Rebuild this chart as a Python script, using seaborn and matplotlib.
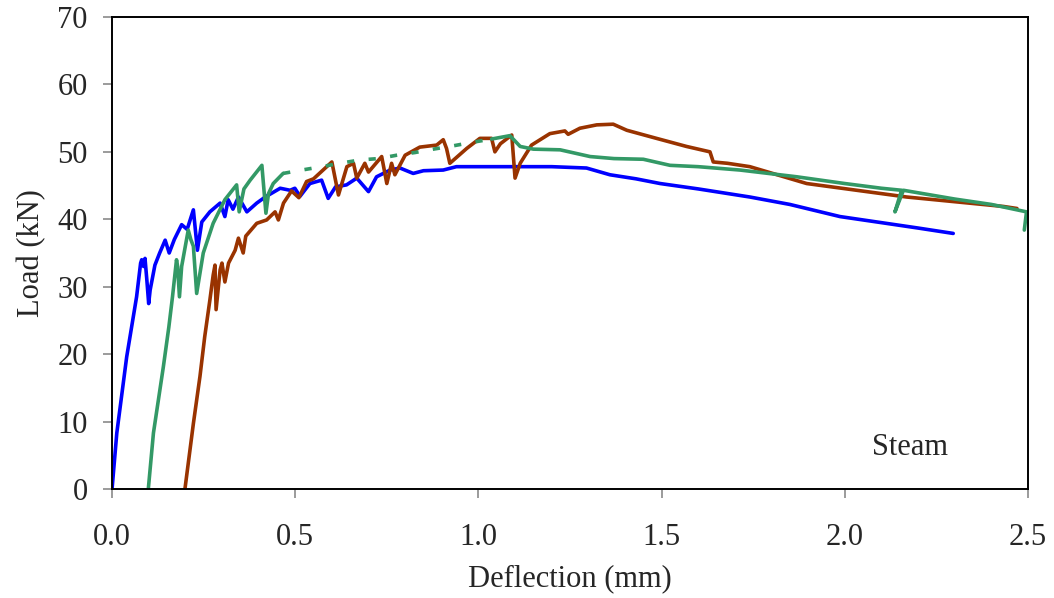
import pandas as pd
import matplotlib
matplotlib.use("Agg")
import matplotlib.pyplot as plt
import seaborn as sns

# Load-deflection curves (Steam)
blue_x = [0, 0.013, 0.04, 0.067, 0.078, 0.081, 0.086, 0.090, 0.095, 0.100, 0.104, 0.117, 0.13,
          0.145, 0.156, 0.17, 0.19, 0.205, 0.222, 0.233, 0.245, 0.267, 0.295, 0.308, 0.317, 0.33,
          0.345, 0.368, 0.395, 0.418, 0.459, 0.486, 0.499, 0.513, 0.54, 0.572, 0.59, 0.61, 0.64,
          0.668, 0.70, 0.722, 0.759, 0.786, 0.822, 0.85, 0.904, 0.94, 1.0, 1.086, 1.2, 1.295,
          1.359, 1.43, 1.496, 1.6, 1.741, 1.85, 1.987, 2.1, 2.2, 2.296]
blue_y = [0, 8.3, 19.6, 28.5, 33.5, 34.0, 33.0, 34.2, 31.0, 27.5, 29.5, 33.2, 35.0,
          36.9, 35.0, 37.0, 39.2, 38.5, 41.4, 35.4, 39.6, 41.1, 42.4, 40.4, 42.9, 41.5,
          43.3, 41.1, 42.4, 43.3, 44.6, 44.3, 44.6, 43.4, 45.3, 45.8, 43.1, 44.8, 45.1,
          46.1, 44.1, 46.3, 47.3, 47.6, 46.8, 47.2, 47.3, 47.8, 47.8, 47.8, 47.8, 47.6,
          46.6, 46.0, 45.3, 44.5, 43.3, 42.2, 40.4, 39.5, 38.7, 37.9]

brown_x = [0.199, 0.222, 0.240, 0.253, 0.267, 0.276, 0.281, 0.284, 0.295, 0.300, 0.308, 0.318,
           0.336, 0.345, 0.358, 0.365, 0.395, 0.422, 0.445, 0.454, 0.468, 0.49, 0.51, 0.531,
           0.55, 0.60, 0.618, 0.641, 0.659, 0.668, 0.69, 0.70, 0.736, 0.75, 0.763, 0.772, 0.80,
           0.84, 0.886, 0.904, 0.913, 0.922, 0.968, 1.004, 1.036, 1.045, 1.06, 1.091, 1.10,
           1.114, 1.145, 1.195, 1.236, 1.245, 1.277, 1.323, 1.368, 1.405, 1.486, 1.568, 1.632,
           1.641, 1.68, 1.741, 1.896, 2.169, 2.433, 2.47]
brown_y = [0, 9.7, 16.7, 22.6, 28.0, 31.7, 33.2, 26.6, 32.5, 33.5, 30.7, 33.5,
           35.4, 37.2, 35.0, 37.5, 39.4, 39.9, 41.1, 39.9, 42.4, 44.2, 43.2, 45.6,
           46.0, 48.5, 43.6, 47.8, 48.3, 46.1, 48.3, 47.0, 49.3, 45.3, 48.3, 46.6, 49.5,
           50.7, 51.0, 51.8, 50.5, 48.3, 50.5, 52.0, 52.0, 50.0, 51.2, 52.5, 46.1,
           48.3, 51.0, 52.7, 53.1, 52.6, 53.5, 54.0, 54.1, 53.2, 52.0, 50.8, 50.0,
           48.5, 48.3, 47.8, 45.3, 43.3, 41.9, 41.6]

# green: solid start, a dashed stretch, solid tail
green_a_x = [0.099, 0.113, 0.140, 0.155, 0.165, 0.176, 0.179, 0.184, 0.19, 0.208, 0.215, 0.222,
             0.231, 0.249, 0.276, 0.308, 0.34, 0.347, 0.36, 0.377, 0.409, 0.420, 0.427, 0.44, 0.467]
green_a_y = [0, 8.3, 18.1, 24.0, 28.5, 34.0, 33.0, 28.5, 33.0, 38.4, 37.0, 36.0,
             29.0, 35.0, 39.4, 42.9, 45.1, 41.1, 44.5, 45.8, 48.0, 40.9, 43.8, 45.3, 46.8]
green_b_x = [0.467, 0.518, 0.572, 0.622, 0.677, 0.727, 0.777, 0.827, 0.877, 0.932, 0.982, 1.036]
green_b_y = [46.8, 47.3, 47.8, 48.3, 48.8, 49.0, 49.5, 49.9, 50.4, 50.9, 51.4, 51.9]
green_c_x = [1.036, 1.086, 1.114, 1.15, 1.223, 1.305, 1.37, 1.45, 1.523, 1.6, 1.714, 1.869,
             2.0, 2.10, 2.155, 2.137, 2.16, 2.3, 2.4, 2.496, 2.49]
green_c_y = [51.9, 52.4, 50.8, 50.4, 50.3, 49.3, 49.0, 48.9, 48.0, 47.8, 47.3, 46.3,
             45.3, 44.6, 44.3, 41.1, 44.3, 43.0, 42.2, 41.1, 38.4]

x_ticks = [0.0, 0.5, 1.0, 1.5, 2.0, 2.5]
y_ticks = [0, 10, 20, 30, 40, 50, 60, 70]

BLUE = "#0000FF"
BROWN = "#993300"
GREEN = "#339966"

sns.set_style("white")
plt.rcParams['font.family'] = ['Liberation Serif', 'DejaVu Serif']

fig = plt.figure(figsize=(10.54, 5.98), dpi=100)
ax = fig.add_axes([0.1063, 0.1823, 0.8690, 0.7893])

lw = 2.6
sns.lineplot(data=pd.DataFrame({"x": blue_x, "y": blue_y}), x="x", y="y",
             sort=False, estimator=None, color=BLUE, lw=lw, ax=ax)
sns.lineplot(data=pd.DataFrame({"x": brown_x, "y": brown_y}), x="x", y="y",
             sort=False, estimator=None, color=BROWN, lw=lw, ax=ax)
sns.lineplot(data=pd.DataFrame({"x": green_a_x, "y": green_a_y}), x="x", y="y",
             sort=False, estimator=None, color=GREEN, lw=lw, ax=ax)
sns.lineplot(data=pd.DataFrame({"x": green_b_x, "y": green_b_y}), x="x", y="y",
             sort=False, estimator=None, color=GREEN, lw=lw, linestyle=(0, (2, 4)), ax=ax)
sns.lineplot(data=pd.DataFrame({"x": green_c_x, "y": green_c_y}), x="x", y="y",
             sort=False, estimator=None, color=GREEN, lw=lw, ax=ax)

ax.set_xlim(0, 2.5)
ax.set_ylim(0, 70)
ax.set_xticks(x_ticks)
ax.set_xticklabels([f"{t:.1f}" for t in x_ticks])
ax.set_yticks(y_ticks)
ax.set_xlabel("Deflection (mm)", fontsize=22, labelpad=9)
ax.set_ylabel("Load (kN)", fontsize=22, labelpad=8)
ax.tick_params(axis="both", labelsize=22, direction="out", length=6.5, width=1.1,
               color="#808080", left=True, bottom=True)
ax.tick_params(axis="x", pad=18)
ax.tick_params(axis="y", pad=11)
for s in ax.spines.values():
    s.set_color("black")
    s.set_linewidth(1.4)

ax.text(2.178, 6.2, "Steam", fontsize=22, ha="center", va="center")

fig.savefig("out.png", dpi=100)
